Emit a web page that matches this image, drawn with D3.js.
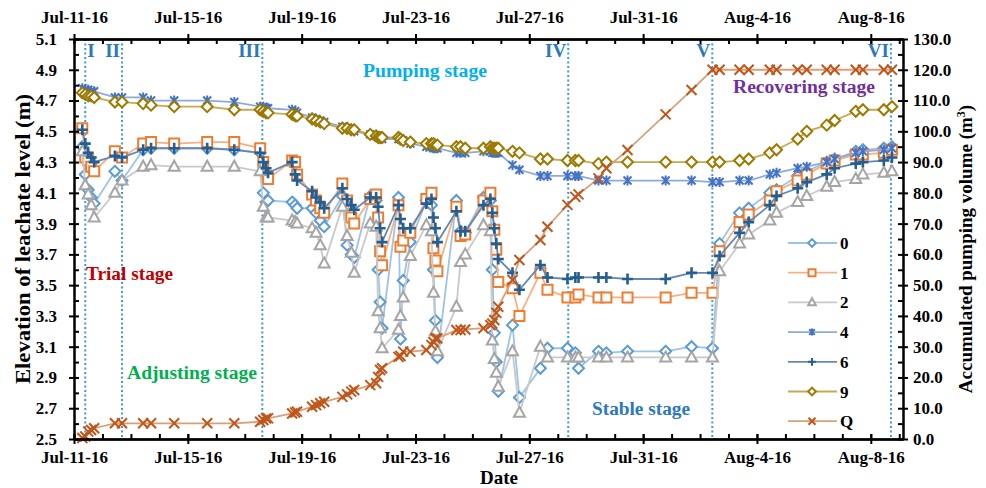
<!DOCTYPE html>
<html>
<head>
<meta charset="utf-8">
<script src="https://cdn.jsdelivr.net/npm/d3@7"></script>
<style>
  body { margin: 0; background: #fff; }
  text { font-family: "Liberation Serif", "Times New Roman", serif; font-weight: bold; }
</style>
</head>
<body>
<div class="chart"></div>
<script>
// measurement times (shared by all wells and Q)
const times = [
  '2016-07-11 07:00', '2016-07-11 09:30', '2016-07-11 12:00', '2016-07-11 14:30', '2016-07-11 17:00',
  '2016-07-12 10:30', '2016-07-12 16:30',
  '2016-07-13 10:20', '2016-07-13 17:00',
  '2016-07-14 12:30', '2016-07-15 16:20', '2016-07-16 15:10',
  '2016-07-17 13:00', '2016-07-17 15:40', '2016-07-17 18:00', '2016-07-17 19:40',
  '2016-07-18 16:00', '2016-07-18 18:30', '2016-07-18 20:10',
  '2016-07-19 08:50', '2016-07-19 12:10', '2016-07-19 15:40', '2016-07-19 19:00',
  '2016-07-20 10:20', '2016-07-20 14:20', '2016-07-20 17:50', '2016-07-20 20:20',
  '2016-07-21 09:50', '2016-07-21 14:50', '2016-07-21 16:30', '2016-07-21 18:10', '2016-07-21 19:50',
  '2016-07-22 09:40', '2016-07-22 11:20', '2016-07-22 13:40', '2016-07-22 19:40',
  '2016-07-23 09:10', '2016-07-23 13:30', '2016-07-23 15:10', '2016-07-23 16:50', '2016-07-23 18:30',
  '2016-07-24 10:30', '2016-07-24 14:00', '2016-07-24 18:00',
  '2016-07-25 09:20', '2016-07-25 15:10', '2016-07-25 16:50', '2016-07-25 18:30', '2016-07-25 20:10', '2016-07-25 21:50',
  '2016-07-26 09:50', '2016-07-26 15:40',
  '2016-07-27 09:20', '2016-07-27 15:20',
  '2016-07-28 08:10', '2016-07-28 14:50', '2016-07-28 17:30',
  '2016-07-29 10:20', '2016-07-29 17:00',
  '2016-07-30 10:50', '2016-07-31 19:00', '2016-08-01 16:50',
  '2016-08-02 10:30', '2016-08-02 16:30',
  '2016-08-03 09:20', '2016-08-03 17:00',
  '2016-08-04 10:50', '2016-08-04 16:30',
  '2016-08-05 10:20', '2016-08-05 18:00',
  '2016-08-06 10:50', '2016-08-06 17:30',
  '2016-08-07 11:20', '2016-08-07 17:20',
  '2016-08-08 11:00', '2016-08-08 17:50'
];

// leachate level (m) per well
const well0 = [4.40, 4.22, 4.12, 4.07, 4.03, 4.24, 4.18, 4.38, 4.39, 4.39, 4.39, 4.38,
  4.36, 4.10, 4.04, 4.05, 4.04, 4.02, 4.00, 4.00, 3.97, 3.92, 3.88, 4.08, 3.76, 3.70, 3.68,
  4.08, 4.05, 3.60, 3.39, 3.22, 4.07, 3.15, 3.53, 3.78, 4.05, 4.02, 3.60, 3.27, 3.03,
  4.05, 3.85, 3.84, 4.07, 4.05, 3.60, 3.19, 3.00, 2.81, 3.24, 2.77, 2.96, 3.09,
  3.09, 3.06, 2.96, 3.07, 3.06, 3.07, 3.07, 3.10, 3.09, 3.77, 3.97, 4.00, 4.10, 4.12,
  4.21, 4.24, 4.30, 4.32, 4.37, 4.38, 4.39, 4.40];
const well1 = [4.52, 4.33, 4.31, 4.27, 4.24, 4.37, 4.33, 4.42, 4.43, 4.42, 4.43, 4.43,
  4.39, 4.30, 4.21, 4.19, 4.31, 4.30, 4.22, 4.09, 4.05, 4.00, 3.97, 4.16, 4.05, 3.94, 3.90,
  4.06, 4.09, 3.94, 3.72, 3.63, 4.02, 3.75, 3.79, 3.84, 4.06, 4.10, 3.74, 3.66, 3.59,
  4.01, 3.82, 3.83, 4.05, 4.10, 3.98, 3.86, 3.73, 3.52, 3.48, 3.30, 3.58, 3.47,
  3.42, 3.42, 3.44, 3.42, 3.42, 3.42, 3.42, 3.45, 3.45, 3.72, 3.91, 3.96, 4.05, 4.11,
  4.18, 4.22, 4.29, 4.31, 4.35, 4.35, 4.36, 4.38];
const well2 = [4.37, 4.15, 4.09, 4.02, 3.94, 4.10, 4.18, 4.27, 4.28, 4.27, 4.27, 4.27,
  4.24, 4.01, 3.94, 3.94, 3.92, 3.91, 3.90, 3.87, 3.84, 3.76, 3.64, 4.01, 3.82, 3.71, 3.58,
  3.90, 3.88, 3.33, 3.22, 3.09, 3.21, 3.30, 3.42, 3.69, 3.89, 3.85, 3.45, 3.20, 3.07,
  3.36, 3.65, 3.70, 3.89, 3.85, 3.14, 3.02, 2.93, 2.84, 3.07, 2.67, 3.10, 3.03,
  3.03, 3.03, 3.03, 3.03, 3.03, 3.03, 3.03, 3.03, 3.03, 3.59, 3.77, 3.83, 3.92, 3.97,
  4.04, 4.08, 4.14, 4.17, 4.19, 4.22, 4.23, 4.24];
const well4 = [4.78, 4.77, 4.77, 4.76, 4.76, 4.72, 4.72, 4.72, 4.70, 4.70, 4.70, 4.69,
  4.66, 4.66, 4.65, 4.65, 4.64, 4.63, 4.62, 4.59, 4.58, 4.57, 4.56, 4.53, 4.52, 4.51, 4.50,
  4.48, 4.47, 4.46, 4.46, 4.45, 4.45, 4.45, 4.44, 4.42, 4.40, 4.40, 4.39, 4.39, 4.39,
  4.36, 4.36, 4.36, 4.37, 4.37, 4.36, 4.36, 4.36, 4.36, 4.28, 4.25, 4.21, 4.21,
  4.21, 4.21, 4.21, 4.18, 4.18, 4.18, 4.18, 4.18, 4.17, 4.17, 4.18, 4.18, 4.22, 4.23,
  4.26, 4.27, 4.30, 4.32, 4.36, 4.37, 4.38, 4.39];
const well6 = [4.51, 4.42, 4.36, 4.33, 4.30, 4.34, 4.33, 4.38, 4.39, 4.39, 4.39, 4.38,
  4.36, 4.30, 4.26, 4.23, 4.30, 4.22, 4.18, 4.11, 4.07, 4.04, 4.00, 4.13, 4.06, 4.02, 3.99,
  4.07, 4.07, 4.01, 3.87, 3.78, 4.02, 3.93, 3.87, 3.87, 4.03, 4.06, 3.94, 3.87, 3.78,
  3.98, 3.85, 3.85, 4.02, 4.06, 3.97, 3.87, 3.77, 3.67, 3.58, 3.47, 3.63, 3.55,
  3.54, 3.55, 3.55, 3.55, 3.55, 3.54, 3.54, 3.58, 3.58, 3.69, 3.84, 3.91, 4.02, 4.08,
  4.13, 4.17, 4.22, 4.26, 4.29, 4.30, 4.31, 4.33];
const well9 = [4.75, 4.74, 4.73, 4.73, 4.72, 4.69, 4.69, 4.68, 4.67, 4.66, 4.66, 4.64,
  4.64, 4.63, 4.62, 4.62, 4.61, 4.60, 4.60, 4.58, 4.57, 4.56, 4.55, 4.52, 4.52, 4.51, 4.51,
  4.48, 4.47, 4.46, 4.46, 4.46, 4.46, 4.45, 4.44, 4.43, 4.42, 4.42, 4.42, 4.41, 4.41,
  4.40, 4.40, 4.39, 4.39, 4.40, 4.39, 4.39, 4.39, 4.39, 4.37, 4.36, 4.32, 4.32,
  4.31, 4.31, 4.31, 4.29, 4.30, 4.30, 4.30, 4.30, 4.30, 4.30, 4.31, 4.32, 4.36, 4.38,
  4.45, 4.50, 4.54, 4.57, 4.63, 4.64, 4.64, 4.66];
// accumulated pumping volume (m3)
const pumpedQ = [0.3, 0.8, 2.4, 2.9, 3.5, 5.1, 5.1, 5.1, 5.1, 5.1, 5.1, 5.1,
  5.6, 6.2, 6.7, 6.7, 8.3, 8.6, 8.9, 10.5, 11.0, 11.6, 12.1, 13.7, 14.5, 15.4, 15.9,
  17.5, 18.1, 20.2, 22.4, 23.0, 26.7, 27.0, 28.4, 28.4, 28.9, 30.5, 31.5, 32.7, 32.7,
  35.4, 35.4, 35.6, 36.0, 37.0, 37.5, 38.7, 41.0, 43.0, 51.7, 58.2, 64.7, 69.0,
  76.1, 78.7, 79.5, 84.7, 88.0, 93.9, 105.5, 113.4, 120, 120, 120, 120, 120, 120,
  120, 120, 120, 120, 120, 120, 120, 120];

const seriesNames = ['0', '1', '2', '4', '6', '9', 'Q'];
const seriesValues = [well0, well1, well2, well4, well6, well9, pumpedQ];

// stage boundaries
const stageNames = ['I', 'II', 'III', 'IV', 'V', 'VI'];
const stageTimes = ['2016-07-11 09:30', '2016-07-12 16:30', '2016-07-17 14:50',
  '2016-07-28 08:50', '2016-08-02 10:20', '2016-08-08 17:00'];

const dateTicks = ['2016-07-11', '2016-07-15', '2016-07-19', '2016-07-23',
  '2016-07-27', '2016-07-31', '2016-08-04', '2016-08-08'];
const levelTicks = [2.5, 2.7, 2.9, 3.1, 3.3, 3.5, 3.7, 3.9, 4.1, 4.3, 4.5, 4.7, 4.9, 5.1];
const volumeTicks = [0, 10, 20, 30, 40, 50, 60, 70, 80, 90, 100, 110, 120, 130];

const markerColors = ['#5b9bd5', '#ed7d31', '#a5a5a5', '#4472c4', '#255e91', '#9c7a00', '#c0561a'];
const lineColors = ['#9dc3e6', '#f4b183', '#c9c9c9', '#8eaadc', '#6488b4', '#c4aa52', '#d9a07a'];
const markerShapes = ['diamond', 'square', 'triangle', 'star', 'plus', 'diamond', 'cross'];

const parseTime = d3.timeParse('%Y-%m-%d %H:%M');
const parseDay = d3.timeParse('%Y-%m-%d');

const chartWidth = 986;
const chartHeight = 488;
const margin = { left: 74, right: 83, top: 39, bottom: 49 };
const width = chartWidth - margin.left - margin.right;
const height = chartHeight - margin.top - margin.bottom;

const svg = d3.select('.chart')
  .append('svg')
  .attr('width', chartWidth)
  .attr('height', chartHeight);

const g = svg.append('g')
  .attr('transform', `translate(${margin.left}, ${margin.top})`);

const xScale = d3.scaleTime()
  .domain([parseDay('2016-07-11'), parseTime('2016-08-09 03:10')])
  .range([0, width]);
const yLeft = d3.scaleLinear().domain([2.5, 5.1]).range([height, 0]);
const yRight = d3.scaleLinear().domain([0, 130]).range([height, 0]);

const markerPath = (shape, s) => {
  switch (shape) {
    case 'diamond': return `M0,${-5.5 * s}L${5.5 * s},0L0,${5.5 * s}L${-5.5 * s},0Z`;
    case 'square': return `M${-5 * s},${-5 * s}H${5 * s}V${5 * s}H${-5 * s}Z`;
    case 'triangle': return `M0,${-6 * s}L${5.5 * s},${4 * s}L${-5.5 * s},${4 * s}Z`;
    case 'star': return `M${-4 * s},${-4 * s}L${4 * s},${4 * s}M${-4 * s},${4 * s}L${4 * s},${-4 * s}M0,${-5 * s}V${5 * s}`;
    case 'plus': return `M${-5.5 * s},0H${5.5 * s}M0,${-5.5 * s}V${5.5 * s}`;
    default: return `M${-5 * s},${-5 * s}L${5 * s},${5 * s}M${-5 * s},${5 * s}L${5 * s},${-5 * s}`;
  }
};
const isOpen = shape => ['diamond', 'square', 'triangle'].includes(shape);

// stage separators (behind data)
const stageDates = stageTimes.map(parseTime);
g.selectAll('.stage-line')
  .data(stageDates)
  .enter()
  .append('line')
  .attr('x1', d => xScale(d))
  .attr('x2', d => xScale(d))
  .attr('y1', 0)
  .attr('y2', height)
  .attr('stroke', '#3d9ad8')
  .attr('stroke-width', 2)
  .attr('stroke-dasharray', '2,2.5');

g.selectAll('.stage-name')
  .data(stageDates)
  .enter()
  .append('text')
  .attr('x', (d, i) => i === 0 ? xScale(d) + 2 : xScale(d) - 2)
  .attr('y', 18)
  .attr('text-anchor', (d, i) => i === 0 ? 'start' : 'end')
  .attr('font-size', '19px')
  .style('fill', '#2a78c0')
  .text((d, i) => stageNames[i]);

// data series
const dates = times.map(parseTime);
seriesValues.forEach((values, si) => {
  const yScale = si === 6 ? yRight : yLeft;
  const pts = values.map((v, i) => ({ date: dates[i], value: v }));
  const line = d3.line().x(d => xScale(d.date)).y(d => yScale(d.value));
  const sg = g.append('g');
  sg.append('path')
    .datum(pts)
    .attr('d', line)
    .attr('fill', 'none')
    .attr('stroke', lineColors[si])
    .attr('stroke-width', 1.8);
  sg.selectAll('path.mk')
    .data(pts)
    .enter()
    .append('path')
    .attr('class', 'mk')
    .attr('transform', d => `translate(${xScale(d.date)}, ${yScale(d.value)})`)
    .attr('d', markerPath(markerShapes[si], 1))
    .attr('fill', isOpen(markerShapes[si]) ? '#fff' : 'none')
    .attr('stroke', markerColors[si])
    .attr('stroke-width', markerShapes[si] === 'plus' ? 2.6 : 2);
});

// axes
const fmt = d3.timeFormat('%b-%-d-%y');
const majorDates = dateTicks.map(parseDay);
const minorDates = d3.timeDay.range(xScale.domain()[0], xScale.domain()[1]);

const styleAxis = sel => {
  sel.selectAll('path, line').attr('stroke', '#000').attr('stroke-width', 2);
  sel.selectAll('text')
    .attr('font-size', '17px')
    .attr('font-family', '"Liberation Serif", "Times New Roman", serif')
    .attr('font-weight', 'bold')
    .attr('fill', '#000');
};

g.append('g').attr('transform', `translate(0, ${height})`)
  .call(d3.axisBottom(xScale).tickValues(minorDates).tickSize(-5).tickFormat('').tickSizeOuter(0))
  .call(styleAxis);
g.append('g').attr('transform', `translate(0, ${height})`)
  .call(d3.axisBottom(xScale).tickValues(majorDates).tickSize(5).tickPadding(7).tickFormat(fmt).tickSizeOuter(0))
  .call(styleAxis);
g.append('g').attr('transform', `translate(0, ${height})`)
  .call(d3.axisBottom(xScale).tickValues(majorDates).tickSize(-5).tickFormat('').tickSizeOuter(0))
  .call(styleAxis);

g.append('g')
  .call(d3.axisTop(xScale).tickValues(minorDates).tickSize(-5).tickFormat('').tickSizeOuter(0))
  .call(styleAxis);
g.append('g')
  .call(d3.axisTop(xScale).tickValues(majorDates).tickSize(5).tickPadding(11).tickFormat(fmt).tickSizeOuter(0))
  .call(styleAxis);
g.append('g')
  .call(d3.axisTop(xScale).tickValues(majorDates).tickSize(-5).tickFormat('').tickSizeOuter(0))
  .call(styleAxis);

g.append('g')
  .call(d3.axisLeft(yLeft).tickValues(yLeft.ticks(26)).tickSize(-5).tickFormat('').tickSizeOuter(0))
  .call(styleAxis);
g.append('g')
  .call(d3.axisLeft(yLeft).tickValues(levelTicks).tickSize(5).tickPadding(12).tickFormat(d3.format('.1f')).tickSizeOuter(0))
  .call(styleAxis);

g.append('g').attr('transform', `translate(${width}, 0)`)
  .call(d3.axisRight(yRight).tickValues(yRight.ticks(26)).tickSize(-5).tickFormat('').tickSizeOuter(0))
  .call(styleAxis);
g.append('g').attr('transform', `translate(${width}, 0)`)
  .call(d3.axisRight(yRight).tickValues(volumeTicks).tickSize(5).tickPadding(5).tickFormat(d3.format('.1f')).tickSizeOuter(0))
  .call(styleAxis);

// axis titles
svg.append('text')
  .attr('transform', `translate(30, ${margin.top + height / 2}) rotate(-90)`)
  .attr('text-anchor', 'middle')
  .attr('font-size', '21px')
  .attr('textLength', 290)
  .attr('lengthAdjust', 'spacingAndGlyphs')
  .text('Elevation of leachate level (m)');

const rightTitle = svg.append('text')
  .attr('transform', `translate(972, ${margin.top + height / 2 + 10}) rotate(-90)`)
  .attr('text-anchor', 'middle')
  .attr('font-size', '19px');
rightTitle.append('tspan').text('Accumulated pumping volume (m');
rightTitle.append('tspan').attr('dy', -7).attr('font-size', '12px').text('3');
rightTitle.append('tspan').attr('dy', 7).text(')');

svg.append('text')
  .attr('x', 499)
  .attr('y', 484)
  .attr('text-anchor', 'middle')
  .attr('font-size', '19px')
  .text('Date');

// stage annotations
const annotations = [
  { text: 'Pumping stage', x: 363, y: 77, w: 124, color: '#00b0f0' },
  { text: 'Recovering stage', x: 733, y: 93, w: 142, color: '#7030a0' },
  { text: 'Trial stage', x: 86, y: 280, w: 87, color: '#c00000' },
  { text: 'Adjusting stage', x: 127, y: 379, w: 130, color: '#00b050' },
  { text: 'Stable stage', x: 592, y: 415, w: 98, color: '#2a78c0' }
];
svg.selectAll('.annot')
  .data(annotations)
  .enter()
  .append('text')
  .attr('x', d => d.x)
  .attr('y', d => d.y)
  .attr('font-size', '18px')
  .attr('textLength', d => d.w)
  .attr('lengthAdjust', 'spacingAndGlyphs')
  .style('fill', d => d.color)
  .text(d => d.text);

// legend
const legend = svg.append('g').attr('transform', 'translate(788, 243)');
seriesNames.forEach((name, i) => {
  const row = legend.append('g').attr('transform', `translate(0, ${i * 29.7})`);
  row.append('line')
    .attr('x1', 0).attr('x2', 49)
    .attr('stroke', lineColors[i])
    .attr('stroke-width', 1.8);
  row.append('path')
    .attr('transform', 'translate(24, 0)')
    .attr('d', markerPath(markerShapes[i], 0.7))
    .attr('fill', isOpen(markerShapes[i]) ? '#fff' : 'none')
    .attr('stroke', markerColors[i])
    .attr('stroke-width', 2);
  row.append('text')
    .attr('x', 52)
    .attr('y', 6)
    .attr('font-size', '17px')
    .text(name);
});
</script>
</body>
</html>
